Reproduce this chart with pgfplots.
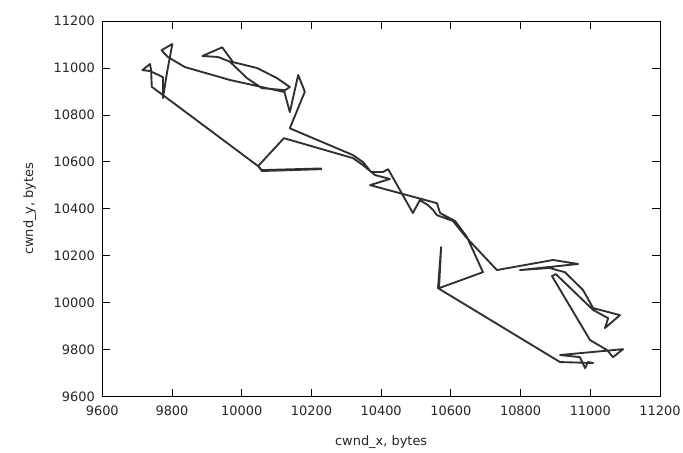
\documentclass[border=0pt]{standalone}
\usepackage{fontspec}
\setmainfont{DejaVu Sans}
\usepackage{pgfplots}
\pgfplotsset{compat=1.18}
\definecolor{trace}{HTML}{303030}
\begin{document}
\begin{tikzpicture}
\begin{axis}[
  name=ax,
  scale only axis,
  width=418.3pt, height=281.6pt,
  xmin=9600, xmax=11200, ymin=9600, ymax=11200,
  xtick={9600,9800,...,11200},
  ytick={9600,9800,...,11200},
  scaled ticks=false,
  /pgf/number format/.cd, 1000 sep={}, assume math mode=true, /pgfplots/.cd,
  tick align=inside,
  major tick length=6pt,
  ticklabel style={font=\fontsize{9.7}{11}\selectfont, text=black!85},
  xticklabel style={yshift=-3.5pt},
  yticklabel style={xshift=-2pt},
  label style={font=\fontsize{9.7}{11}\selectfont, text=black!85},
  xlabel={cwnd\_x, bytes},
  ylabel={cwnd\_y, bytes},
  xlabel style={at={(axis description cs:0.5,-0.12)}, anchor=center},
  ylabel style={at={(axis description cs:-0.13,0.5)}, anchor=center},
  axis line style={black, line width=0.8pt},
  every tick/.style={black, line width=0.6pt},
]
\addplot[trace, line width=1.4pt, line join=round, mark=none] coordinates {
(10229,10572) (10058,10565) (10047,10582) (9742,10920) (9740,10991) (9737,11017)
(9715,10991) (9737,10987) (9774,10961) (9774,10872) (9786,10983) (9801,11102)
(9770,11076) (9788,11047) (9837,11004) (9966,10949) (10118,10899) (10138,10919)
(10101,10957) (10044,11000) (9975,11025) (9944,11088) (9887,11051) (9932,11047)
(9966,11027) (10015,10957) (10058,10914) (10121,10906) (10138,10812) (10162,10970)
(10181,10899) (10138,10743) (10319,10629) (10348,10599) (10371,10557) (10405,10557)
(10420,10569) (10491,10382) (10511,10437) (10534,10416) (10549,10395) (10560,10373)
(10606,10348) (10643,10280) (10732,10139) (10893,10182) (10965,10165) (10798,10139)
(10884,10148) (10904,10139) (10927,10130) (10979,10054) (11008,9977) (11085,9947)
(11042,9892) (11051,9934) (11008,9969) (10901,10122) (10890,10113) (10999,9841)
(11048,9798) (11065,9768) (11094,9802) (10913,9777) (10970,9768) (10985,9721)
(10993,9747) (11008,9743) (10913,9747) (10563,10062) (10572,10237) (10566,10062)
(10692,10130) (10646,10280) (10612,10348) (10569,10382) (10560,10424) (10368,10501)
(10425,10527) (10382,10544) (10348,10586) (10319,10616) (10121,10701) (10047,10582)
(10058,10561) (10230,10569)
};
\end{axis}
\pgfresetboundingbox
\path[use as bounding box] ([shift={(-76.7pt,-41.6pt)}]ax.south west) rectangle ([shift={(435.5pt,297.4pt)}]ax.south west);
\end{tikzpicture}
\end{document}
